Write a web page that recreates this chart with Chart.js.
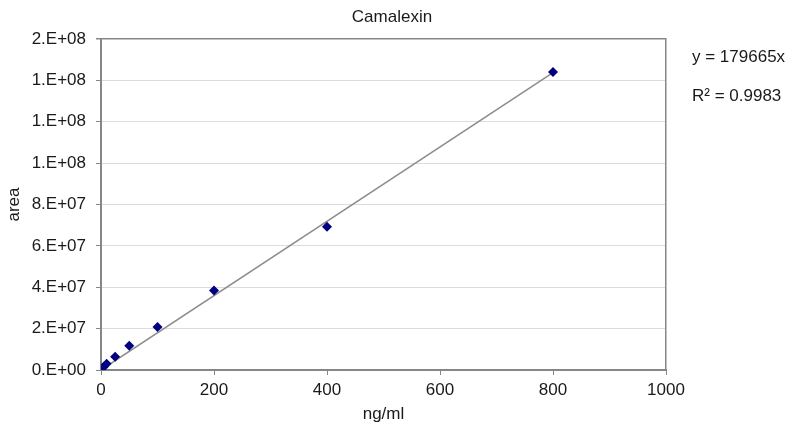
<!DOCTYPE html>
<html>
<head>
<meta charset="utf-8">
<script src="https://cdn.jsdelivr.net/npm/chart.js@4"></script>
<style>
  html, body { margin: 0; padding: 0; background: #fff; }
  #wrap { width: 800px; height: 434px; }
</style>
</head>
<body>
<div id="wrap"><canvas id="calChart" width="800" height="434"></canvas></div>
<script>
// Camalexin calibration: concentration (ng/ml) vs peak area
const concentrations = [1, 5, 10, 25, 50, 100, 200, 400, 800];
const areas = [0.5e6, 1.6e6, 3.0e6, 6.4e6, 1.17e7, 2.08e7, 3.84e7, 6.93e7, 1.44e8];
const trendSlope = 179665;
const trendRange = [0, 800];
const xTicks = [0, 200, 400, 600, 800, 1000];
const yMax = 1.6e8;
const yStep = 2e7;
const equationLines = ['y = 179665x', 'R\u00b2 = 0.9983'];

const FONT = "'Liberation Sans', Arial, sans-serif";
const FS = 17;
const TEXT = '#1a1a1a';
const AXIS = '#868686';

// Excel "0.E+00" style
const sciLabel = (v) => {
    if (v === 0) return '0.E+00';
    let exp = Math.floor(Math.log10(v));
    let m = Math.round(v / Math.pow(10, exp));
    if (m === 10) { m = 1; exp++; }
    return m + '.E+' + String(exp).padStart(2, '0');
};

const equationText = {
    id: 'equationText',
    afterDraw(chart) {
        const { ctx, chartArea } = chart;
        ctx.save();
        ctx.font = FS + 'px ' + FONT;
        ctx.fillStyle = TEXT;
        ctx.textBaseline = 'middle';
        ctx.textAlign = 'left';
        equationLines.forEach((line, i) => {
            ctx.fillText(line, chartArea.right + 26, 57 + i * 39);
        });
        ctx.restore();
    }
};

const ctx = document.getElementById('calChart').getContext('2d');
new Chart(ctx, {
    type: 'scatter',
    data: {
        datasets: [
            {
                label: 'area',
                data: concentrations.map((c, i) => ({ x: c, y: areas[i] })),
                pointStyle: 'rectRot',
                pointRadius: 5,
                backgroundColor: '#000080',
                borderColor: '#000080',
                borderWidth: 0,
                order: 1
            },
            {
                label: 'trend',
                type: 'line',
                data: trendRange.map(x => ({ x: x, y: trendSlope * x })),
                borderColor: '#8c8c8c',
                borderWidth: 1.5,
                pointRadius: 0,
                fill: false,
                order: 2
            }
        ]
    },
    options: {
        responsive: false,
        animation: false,
        layout: { padding: { left: 0, right: 16, top: 0, bottom: 0 } },
        plugins: {
            legend: { display: false },
            tooltip: { enabled: false },
            title: {
                display: true,
                text: 'Camalexin',
                color: TEXT,
                font: { family: FONT, size: FS, weight: 'normal' },
                padding: { top: 6.8, bottom: 11.8 }
            }
        },
        scales: {
            x: {
                type: 'linear',
                min: 0,
                max: 1000,
                afterBuildTicks: (scale) => { scale.ticks = xTicks.map(v => ({ value: v })); },
                afterFit: (scale) => { scale.height = 64; },
                grid: { drawOnChartArea: false, drawTicks: true, tickLength: 5, tickColor: AXIS },
                border: { color: AXIS, width: 2 },
                ticks: {
                    color: TEXT,
                    padding: 5,
                    maxRotation: 0,
                    font: { family: FONT, size: FS },
                    callback: (v) => String(v)
                },
                title: {
                    display: true,
                    text: 'ng/ml',
                    color: TEXT,
                    font: { family: FONT, size: FS },
                    padding: { top: 0, bottom: 9 }
                }
            },
            y: {
                min: 0,
                max: yMax,
                afterFit: (scale) => { scale.width = 101; },
                grid: {
                    color: (c) => (c.tick && c.tick.value === yMax ? AXIS : '#dcdcdc'),
                    lineWidth: (c) => (c.tick && c.tick.value === yMax ? 1.5 : 1),
                    tickLength: 5,
                    tickColor: AXIS
                },
                border: { color: AXIS, width: 2 },
                ticks: {
                    stepSize: yStep,
                    color: TEXT,
                    padding: 10,
                    font: { family: FONT, size: FS },
                    callback: (v) => sciLabel(v)
                },
                title: {
                    display: true,
                    text: 'area',
                    color: TEXT,
                    font: { family: FONT, size: FS },
                    padding: { top: 4, bottom: 0 }
                }
            },
            yRight: {
                position: 'right',
                min: 0,
                max: 1,
                afterFit: (scale) => { scale.width = 118; },
                grid: { drawOnChartArea: false, drawTicks: false },
                border: { color: AXIS, width: 1.5 },
                ticks: { display: false }
            }
        }
    },
    plugins: [equationText]
});
</script>
</body>
</html>
